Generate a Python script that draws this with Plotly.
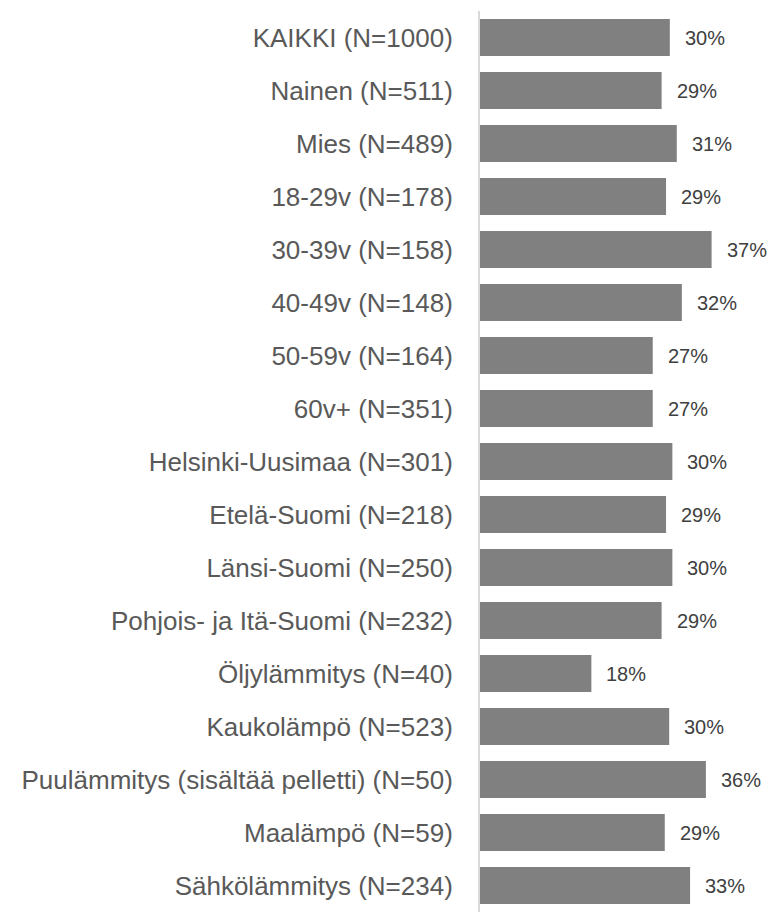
import plotly.graph_objects as go

categories = [
    "KAIKKI (N=1000)", "Nainen (N=511)", "Mies (N=489)", "18-29v (N=178)",
    "30-39v (N=158)", "40-49v (N=148)", "50-59v (N=164)", "60v+ (N=351)",
    "Helsinki-Uusimaa (N=301)", "Etelä-Suomi (N=218)", "Länsi-Suomi (N=250)",
    "Pohjois- ja Itä-Suomi (N=232)", "Öljylämmitys (N=40)", "Kaukolämpö (N=523)",
    "Puulämmitys (sisältää pelletti) (N=50)", "Maalämpö (N=59)", "Sähkölämmitys (N=234)",
]
values = [30.0, 28.7, 31.1, 29.4, 36.6, 31.9, 27.3, 27.3, 30.4, 29.4, 30.4,
          28.7, 17.6, 29.9, 35.7, 29.2, 33.2]
labels = ["30%", "29%", "31%", "29%", "37%", "32%", "27%", "27%", "30%", "29%",
          "30%", "29%", "18%", "30%", "36%", "29%", "33%"]

FONT = "Liberation Sans, Arial, sans-serif"

fig = go.Figure(go.Bar(
    x=values, y=categories, orientation="h",
    marker=dict(color="#808080", line=dict(width=0)),
    hoverinfo="skip",
))

for c, v, t in zip(categories, values, labels):
    fig.add_annotation(x=v, y=c, text=t, showarrow=False, xanchor="left",
                       xshift=13, font=dict(family=FONT, size=20, color="#404040"))

fig.update_layout(
    width=777, height=923,
    margin=dict(l=472, r=0, t=3, b=19),
    paper_bgcolor="white", plot_bgcolor="white",
    bargap=0.30, showlegend=False,
    font=dict(family=FONT, color="#595959"),
)
fig.update_xaxes(range=[0, 48.2], visible=False, showgrid=False, zeroline=False)
fig.update_yaxes(autorange="reversed", showgrid=False, zeroline=False,
                 showline=True, linecolor="#d9d9d9", linewidth=2,
                 ticks="", ticklabelstandoff=20,
                 tickfont=dict(family=FONT, size=26, color="#595959"))

fig.write_html("out.html")
